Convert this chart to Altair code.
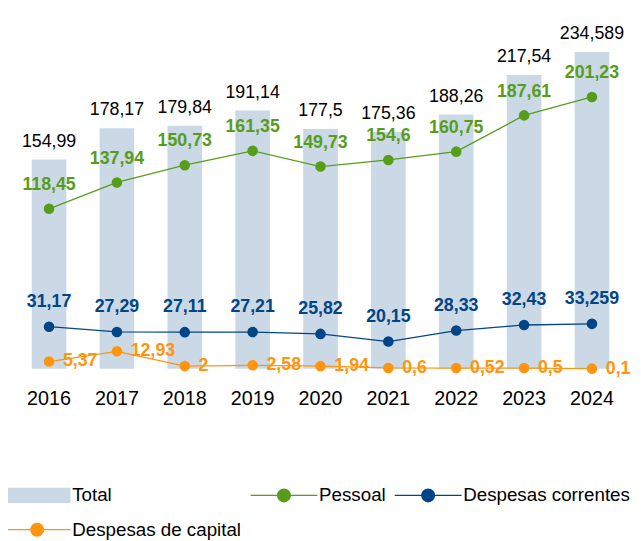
import altair as alt
import pandas as pd

years = ["2016", "2017", "2018", "2019", "2020", "2021", "2022", "2023", "2024"]
total = [154.99, 178.17, 179.84, 191.14, 177.5, 175.36, 188.26, 217.54, 234.589]
pessoal = [118.45, 137.94, 150.73, 161.35, 149.73, 154.6, 160.75, 187.61, 201.23]
correntes = [31.17, 27.29, 27.11, 27.21, 25.82, 20.15, 28.33, 32.43, 33.259]
capital = [5.37, 12.93, 2, 2.58, 1.94, 0.6, 0.52, 0.5, 0.1]

series_names = ["Total", "Pessoal", "Despesas correntes", "Despesas de capital"]
series_colors = ["#cbd8e6", "#579d1c", "#004586", "#ff950e"]

FONT = "Liberation Sans"

rows = []
for name, vals in zip(series_names, [total, pessoal, correntes, capital]):
    for y, v in zip(years, vals):
        rows.append({"year": y, "serie": name, "value": v})
df = pd.DataFrame(rows)

color_scale = alt.Scale(domain=series_names, range=series_colors)

line_sym = "M-2,0H2M-0.38,0A0.38,0.38 0 1,0 0.38,0A0.38,0.38 0 1,0 -0.38,0Z"
rect_sym = "M-2,-0.46H2V0.46H-2Z"

legend = alt.Legend(
    title=None, orient="none", legendX=20, legendY=460.5, columns=3,
    direction="horizontal", values=series_names,
    labelFont=FONT, labelFontSize=19, labelColor="#000000", labelLimit=400,
    symbolSize=1144, labelOffset=26, rowPadding=15, columnPadding=6, padding=0,
    symbolType=alt.ExprRef(f"datum.value === 'Total' ? '{rect_sym}' : '{line_sym}'"),
    symbolFillColor=alt.ExprRef("scale('color', datum.value)"),
    symbolStrokeColor=alt.ExprRef("scale('color', datum.value)"),
    symbolStrokeWidth=alt.ExprRef("datum.value === 'Total' ? 0 : 1.3"),
    symbolOpacity=1,
)

x_enc = alt.X(
    "year:N",
    sort=years,
    scale=alt.Scale(paddingInner=0.49, paddingOuter=0.35),
    axis=alt.Axis(title=None, domain=False, ticks=False, labelAngle=0,
                  labelFont=FONT, labelFontSize=20, labelColor="#000000",
                  labelPadding=20, grid=False),
)
y_enc = alt.Y("value:Q", scale=alt.Scale(domain=[0, 250]), axis=None)

base = alt.Chart(df).encode(x=x_enc, y=y_enc).transform_calculate(
    lbl="replace(toString(datum.value), '.', ',')"
)

bars = base.transform_filter("datum.serie === 'Total'").mark_bar().encode(
    color=alt.Color("serie:N", scale=color_scale, legend=legend)
)
lines_base = base.transform_filter("datum.serie !== 'Total'")
lines = lines_base.mark_line(strokeWidth=1.3).encode(
    color=alt.Color("serie:N", scale=color_scale, legend=legend), detail="serie:N"
)
points = lines_base.mark_point(filled=True, size=115, opacity=1).encode(
    color=alt.Color("serie:N", scale=color_scale, legend=legend)
)

t_total = base.transform_filter("datum.serie === 'Total'").mark_text(
    font=FONT, fontSize=18, color="#000000", baseline="alphabetic", dy=-13
).encode(text="lbl:N")
t_pess = base.transform_filter("datum.serie === 'Pessoal'").mark_text(
    font=FONT, fontSize=18, fontWeight="bold", color="#579d1c", baseline="alphabetic", dy=-19
).encode(text="lbl:N")
t_corr = base.transform_filter("datum.serie === 'Despesas correntes'").mark_text(
    font=FONT, fontSize=18, fontWeight="bold", color="#004586", baseline="alphabetic", dy=-20
).encode(text="lbl:N")
t_cap = base.transform_filter("datum.serie === 'Despesas de capital'").mark_text(
    font=FONT, fontSize=18, fontWeight="bold", color="#ff950e", baseline="middle", align="left", dx=14
).encode(text="lbl:N")

chart = alt.layer(bars, lines, points, t_total, t_pess, t_corr, t_cap).properties(
    width=633, height=342,
    autosize=alt.AutoSizeParams(type="none"),
    padding={"left": 0, "top": 20, "right": 0, "bottom": 170},
).configure_view(stroke=None)

chart.save("out.html", embed_options={"renderer": "svg", "actions": False})
